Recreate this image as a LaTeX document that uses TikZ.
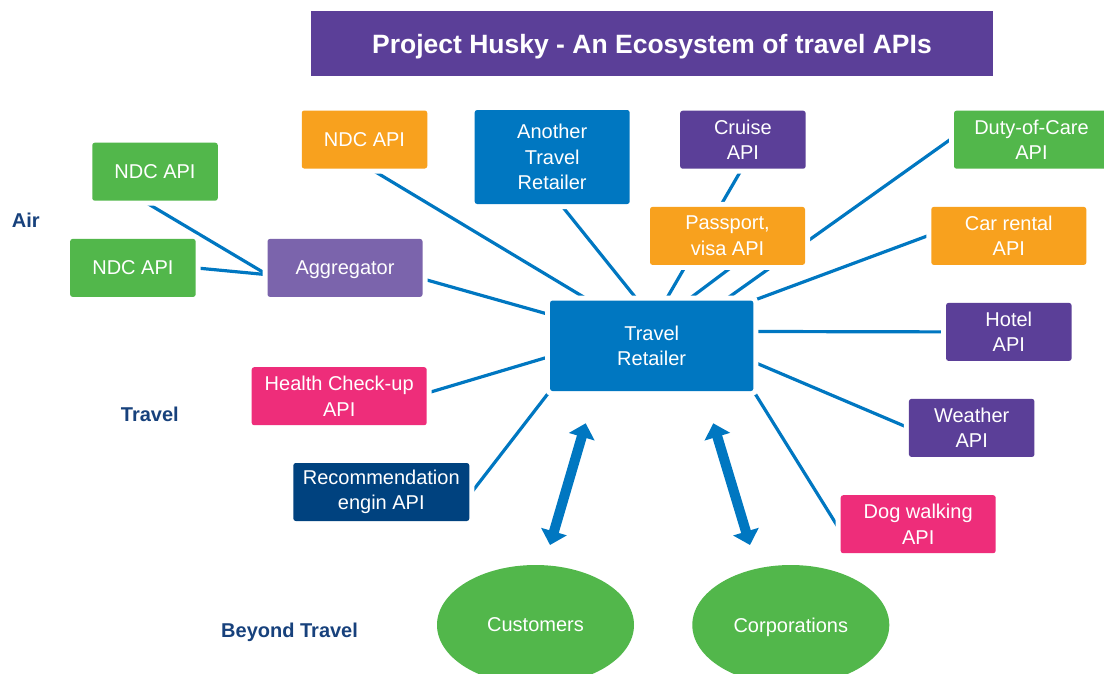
\documentclass[tikz,border=0pt]{standalone}
\usepackage{fontspec}
\setmainfont{Liberation Sans}
\usetikzlibrary{arrows.meta, backgrounds, shapes}
\definecolor{huskyblue}{HTML}{0077C1}
\definecolor{huskypurple}{HTML}{5B3F98}
\definecolor{agglilac}{HTML}{7B64AC}
\definecolor{apigreen}{HTML}{52B74B}
\definecolor{apiorange}{HTML}{F8A11E}
\definecolor{apipink}{HTML}{EE2D7A}
\definecolor{recnavy}{HTML}{00427F}
\definecolor{sectionnavy}{HTML}{17417C}
\tikzstyle{apibox}=[shape=rectangle, rounded corners=2.5pt, inner sep=0pt, text=white, align=center, minimum height=58pt, font=\fontsize{20}{25.5}\selectfont, preaction={draw=white, line width=10pt}]
\tikzstyle{smallbox}=[apibox, minimum width=125.5pt]
\tikzstyle{widebox}=[apibox, minimum width=155pt]
\tikzstyle{oneline}=[text depth=0pt]
\tikzstyle{party}=[shape=ellipse, fill=apigreen, text=white, minimum width=197pt, minimum height=120pt, text depth=0pt, font=\fontsize{20}{24}\selectfont]
\tikzstyle{link}=[draw=huskyblue, line width=3.2pt]
\tikzstyle{bothway}=[draw=huskyblue, line width=10pt, {Triangle[length=14pt,width=26pt]}-{Triangle[length=14pt,width=26pt]}]
\tikzstyle{section}=[anchor=base west, inner sep=0pt, text=sectionnavy, font=\fontsize{20}{24}\selectfont\bfseries]

\begin{document}
\begin{tikzpicture}[x=1pt,y=-1pt]
\useasboundingbox (0,0) rectangle (1104,673);
\clip (0,0) rectangle (1104,673);
\node[shape=rectangle, fill=huskypurple, minimum width=682pt, minimum height=64.7pt, inner sep=0pt, text depth=0pt, text=white, font=\fontsize{26.5}{30}\selectfont\bfseries] (title) at (652,43.4) {Project Husky - An Ecosystem of travel APIs};
%sections
\node[section] (air) at (11.7,227.7) {Air};
\node[section] (travel) at (120.7,421.7) {Travel};
\node[section] (beyond) at (221,637) {Beyond Travel};
%hub
\node[apibox, fill=huskyblue, minimum width=203.3pt, minimum height=90.5pt] (tr) at (651.7,345.8) {Travel\\Retailer};
%air side
\node[smallbox, oneline, fill=apigreen] (ndcA) at (155,171.7) {NDC API};
\node[smallbox, oneline, fill=apigreen] (ndcB) at (132.9,267.9) {NDC API};
\node[widebox, oneline, fill=agglilac] (agg) at (345,267.9) {Aggregator};
\node[smallbox, oneline, fill=apiorange] (ndcC) at (364.5,139.5) {NDC API};
\node[widebox, fill=huskyblue, minimum height=94pt] (atr) at (552.2,157) {Another\\Travel\\Retailer};
\node[smallbox, fill=huskypurple] (cruise) at (742.9,139.7) {Cruise\\API};
\node[widebox, fill=apiorange] (passport) at (727.5,235.9) {Passport,\\visa API};
\node[widebox, fill=apigreen] (duty) at (1031.5,139.7) {Duty-of-Care\\API};
\node[widebox, fill=apiorange] (car) at (1008.8,235.9) {Car rental\\API};
\node[smallbox, fill=huskypurple] (hotel) at (1008.8,331.9) {Hotel\\API};
\node[smallbox, fill=huskypurple] (weather) at (971.7,427.9) {Weather\\API};
\node[widebox, fill=apipink] (dog) at (918.2,524.2) {Dog walking\\API};
\node[apibox, fill=apipink, minimum width=175pt] (health) at (339.2,396.2) {Health Check-up\\API};
\node[apibox, fill=recnavy, minimum width=176pt] (rec) at (381.3,492) {Recommendation\\engin API};
%beyond travel
\node[party] (cust) at (535.5,625) {Customers};
\node[party] (corp) at (790.8,625) {Corporations};
\begin{scope}[on background layer]
\foreach \a/\b in {ndcA.248/agg.185, ndcB.east/agg.185, agg.352/tr.163, ndcC.281/tr.144, atr.280/tr.107, cruise.268/tr.73, passport.283/tr.52, duty.178/tr.32, car.179/tr.24, hotel.west/tr.8, weather.west/tr.351, dog.185/tr.336, health.2/tr.186, rec.358/tr.204}{
	\draw[link] (\a) -- (\b);
}
\end{scope}
\coordinate (custtip) at (550,545); \coordinate (trtipA) at (585.7,423.3);
\coordinate (corptip) at (750,545); \coordinate (trtipB) at (713.3,423.3);
\draw[bothway] (custtip) -- (trtipA);
\draw[bothway] (trtipB) -- (corptip);
\end{tikzpicture}
\end{document}
